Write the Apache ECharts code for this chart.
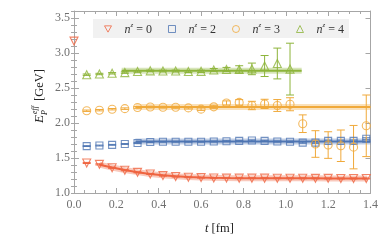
<!DOCTYPE html>
<html><head><meta charset="utf-8">
<script src="https://cdn.jsdelivr.net/npm/echarts@6/dist/echarts.min.js"></script>
<style>html,body{margin:0;padding:0;background:#fff}#c{width:382px;height:243px}</style>
</head><body><div id="c"></div>
<script>
// ---- data ----
const times = [0.06,0.12,0.18,0.24,0.30,0.36,0.42,0.48,0.54,0.60,0.66,0.72,0.78,0.84,0.90,0.96,1.02,1.08,1.14,1.20,1.26,1.32,1.38];
const redT0 = [0.0, 3.17];
const redE   = [1.429,1.409,1.360,1.325,1.295,1.272,1.248,1.235,1.225,1.220,1.215,1.213,1.212,1.212,1.212,1.211,1.210,1.210,1.209,1.209,1.208,1.208,1.207];
const redErr = [0.008,0.008,0.008,0.008,0.007,0.007,0.007,0.007,0.006,0.006,0.006,0.006,0.006,0.006,0.006,0.006,0.006,0.006,0.006,0.006,0.006,0.006,0.006];
const redFitT = [0.12,0.18,0.24,0.30,0.36,0.42,0.48,0.54,0.60,0.66,0.72,0.78,0.84,0.90,0.96,1.02,1.08,1.14,1.20,1.26,1.32,1.385];
const redFit  = [1.405,1.365,1.328,1.298,1.272,1.252,1.238,1.228,1.221,1.217,1.214,1.212,1.211,1.210,1.210,1.209,1.209,1.209,1.208,1.208,1.208,1.207];

const blueE   = [1.670,1.678,1.688,1.700,1.714,1.728,1.732,1.732,1.732,1.732,1.735,1.740,1.745,1.750,1.745,1.735,1.732,1.720,1.720,1.745,1.745,1.745,1.775];
const blueErr = [0.006,0.006,0.006,0.006,0.006,0.006,0.006,0.006,0.006,0.006,0.007,0.007,0.007,0.008,0.008,0.008,0.009,0.009,0.010,0.010,0.011,0.012,0.014];
const blueFitRange = [0.29, 1.40];
const blueFit = 1.735;

const orangeE   = [2.175,2.183,2.197,2.205,2.222,2.228,2.226,2.224,2.216,2.198,2.231,2.286,2.294,2.250,2.273,2.250,2.268,1.990,1.700,1.685,1.675,1.655,1.960];
const orangeErr = [0.010,0.010,0.010,0.011,0.012,0.012,0.013,0.014,0.015,0.018,0.022,0.030,0.040,0.060,0.066,0.085,0.093,0.126,0.190,0.190,0.225,0.310,0.440];
const orangeFitRange = [0.29, 1.40];
const orangeFit = 2.23;

const greenT   = [0.06,0.12,0.18,0.24,0.30,0.36,0.42,0.48,0.54,0.60,0.66,0.72,0.78,0.84,0.90,0.96,1.02];
const greenE   = [2.690,2.700,2.710,2.720,2.735,2.745,2.742,2.742,2.735,2.738,2.758,2.764,2.766,2.773,2.814,2.850,2.770];
const greenErr = [0.010,0.010,0.010,0.010,0.011,0.011,0.012,0.013,0.014,0.016,0.020,0.030,0.052,0.083,0.150,0.220,0.370];
const greenFitRange = [0.225, 1.075];
const greenFit = 2.745;

const legendNames = ['0','2','3','4'];
const xTicks = {min:0, max:1.4, step:0.2};
const yTicks = {min:1.0, max:3.6, step:0.5};

// ---- styles ----
const C = {red:'#EF6440', blue:'#4F76B3', orange:'#F0A93A', green:'#8DB43A'};
const SERIF = '"Liberation Serif","DejaVu Serif",serif';
const FRAME = '#a6a6a6';

function errRender(color){
  return function(params, api){
    const t = api.value(0), v = api.value(1), e = api.value(2);
    const hi = api.coord([t, v+e]), lo = api.coord([t, v-e]);
    const w = 4;
    const st = {stroke: color, lineWidth: 1};
    return {type:'group', children:[
      {type:'line', shape:{x1:hi[0], y1:hi[1], x2:lo[0], y2:lo[1]}, style:st},
      {type:'line', shape:{x1:hi[0]-w, y1:hi[1], x2:hi[0]+w, y2:hi[1]}, style:st},
      {type:'line', shape:{x1:lo[0]-w, y1:lo[1], x2:lo[0]+w, y2:lo[1]}, style:st}
    ]};
  };
}
function zip3(t,v,e){ return t.map((x,i)=>[x, v[i], e[i]]); }
function zip2(t,v){ return t.map((x,i)=>[x, v[i]]); }

function fitSeries(data, color){
  return [
    {type:'line', data, showSymbol:false, silent:true, z:1,
     lineStyle:{color, width:6, opacity:0.35}, animation:false},
    {type:'line', data, showSymbol:false, silent:true, z:2,
     lineStyle:{color, width:2}, animation:false}
  ];
}
function errSeries(data, color){
  return {type:'custom', data, renderItem: errRender(color), encode:{x:0,y:1}, z:3, silent:true, animation:false};
}
const DOWN_TRI = 'path://M0,0L10,0L5,9Z';
function markSeries(name, data, color, symbol, size){
  return {type:'scatter', name, data, symbol, symbolSize:size, z:4, animation:false,
    itemStyle:{color:'rgba(255,255,255,0)', borderColor:color, borderWidth:1.1}};
}

const xCommon = {type:'value', min:xTicks.min, max:xTicks.max, interval:xTicks.step,
  axisLine:{show:true, lineStyle:{color:FRAME, width:1}},
  axisTick:{show:true, inside:true, length:5, lineStyle:{color:FRAME}},
  minorTick:{show:true, splitNumber:4, length:3, lineStyle:{color:FRAME}},
  splitLine:{show:false}, minorSplitLine:{show:false}};
const yMajor = {type:'value', min:yTicks.min, max:yTicks.max, interval:yTicks.step,
  axisLine:{show:true, onZero:false, lineStyle:{color:FRAME, width:1}},
  axisTick:{show:true, inside:true, length:5, lineStyle:{color:FRAME}},
  splitLine:{show:false}};
const yMinor = {type:'value', min:yTicks.min, max:yTicks.max, interval:0.1,
  axisLine:{show:false}, axisLabel:{show:false},
  axisTick:{show:true, inside:true, length:3, lineStyle:{color:FRAME}},
  splitLine:{show:false}};

const labelStyle = {color:'#707070', fontFamily:SERIF, fontSize:12};

const option = {
  backgroundColor:'#fff',
  animation:false,
  grid:{left:74, right:11.5, top:11, bottom:50, containLabel:false},
  xAxis:[
    Object.assign({}, xCommon, {position:'bottom',
      axisLabel:Object.assign({show:true, margin:6, formatter:v=>v.toFixed(1)}, labelStyle)}),
    Object.assign({}, xCommon, {position:'top', axisLabel:{show:false}})
  ],
  yAxis:[
    Object.assign({}, yMajor, {position:'left',
      axisLabel:Object.assign({show:true, margin:4,
        formatter:v=> (Math.abs(v*2-Math.round(v*2))<1e-6 ? v.toFixed(1) : '')}, labelStyle)}),
    Object.assign({}, yMajor, {position:'right', axisLabel:{show:false}}),
    Object.assign({}, yMinor, {position:'left'}),
    Object.assign({}, yMinor, {position:'right'})
  ],
  legend:{
    left:93, top:19, orient:'horizontal',
    backgroundColor:'#f1f1f1', borderRadius:0,
    padding:[3,5,2,11], itemWidth:7, itemHeight:7, itemGap:16,
    itemStyle:{borderWidth:1},
    textStyle:{fontFamily:SERIF, fontSize:12, color:'#333', padding:[0,0,0,8],
      rich:{
        i:{fontFamily:SERIF, fontStyle:'italic', fontSize:12, color:'#333', lineHeight:14, verticalAlign:'bottom'},
        s:{fontFamily:SERIF, fontStyle:'italic', fontSize:7, color:'#333', lineHeight:14, verticalAlign:'top'},
        r:{fontFamily:SERIF, fontSize:12, color:'#333', lineHeight:14, verticalAlign:'bottom'}
      }},
    formatter: name => '{i|n}{s|z}{r| = ' + name + '}',
    data:[
      {name:legendNames[0], icon:DOWN_TRI},
      {name:legendNames[1], icon:'rect'},
      {name:legendNames[2], icon:'circle'},
      {name:legendNames[3], icon:'triangle'}
    ]
  },
  graphic:[
    {type:'group', x:46, y:123, rotation:Math.PI/2, children:[
      {type:'text', x:0, y:0, style:{text:'E', fontFamily:SERIF, fontStyle:'italic', fontSize:13, fill:'#222', verticalAlign:'bottom'}},
      {type:'text', x:9, y:-7, style:{text:'eff', fontFamily:SERIF, fontStyle:'italic', fontSize:8, fill:'#222', verticalAlign:'bottom'}},
      {type:'text', x:8, y:3, style:{text:'P', fontFamily:SERIF, fontStyle:'italic', fontSize:8, fill:'#222', verticalAlign:'bottom'}},
      {type:'text', x:22, y:0, style:{text:'[GeV]', fontFamily:SERIF, fontSize:12.5, fill:'#222', verticalAlign:'bottom'}}
    ]},
    {type:'text', x:205, y:222, style:{text:'{i|t} [fm]', fontFamily:SERIF, fontSize:12.5, fill:'#222',
      rich:{i:{fontFamily:SERIF, fontStyle:'italic', fontSize:12.5, fill:'#222'}}}}
  ],
  series:[
    ...fitSeries(zip2(redFitT, redFit), C.red),
    ...fitSeries(blueFitRange.map(t=>[t, blueFit]), C.blue),
    ...fitSeries(orangeFitRange.map(t=>[t, orangeFit]), C.orange),
    ...fitSeries(greenFitRange.map(t=>[t, greenFit]), C.green),
    errSeries(zip3(times, redE, redErr), C.red),
    errSeries(zip3(times, blueE, blueErr), C.blue),
    errSeries(zip3(times, orangeE, orangeErr), C.orange),
    errSeries(zip3(greenT, greenE, greenErr), C.green),
    markSeries(legendNames[0], [redT0].concat(zip2(times, redE)), C.red, DOWN_TRI, 8),
    markSeries(legendNames[1], zip2(times, blueE), C.blue, 'rect', 7),
    markSeries(legendNames[2], zip2(times, orangeE), C.orange, 'circle', 8),
    markSeries(legendNames[3], zip2(greenT, greenE), C.green, 'triangle', 8)
  ]
};
const chart = echarts.init(document.getElementById('c'), null, {renderer:'canvas'});
chart.setOption(option);
</script></body></html>
